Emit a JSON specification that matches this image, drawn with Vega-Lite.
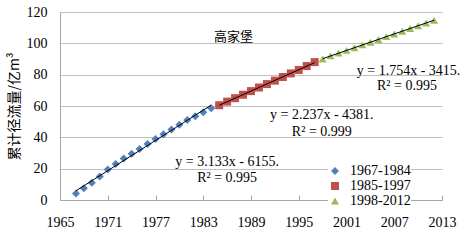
{
  "$schema": "https://vega.github.io/schema/vega-lite/v6.json",
  "width": 382,
  "height": 188,
  "autosize": {"type": "none"},
  "padding": {"left": 60, "top": 12, "right": 25, "bottom": 40},
  "background": "white",
  "config": {
    "view": {"stroke": null},
    "font": "Liberation Serif"
  },
  "datasets": {
    "runoff": [
      {"year": 1967, "value": 4.2, "period": "1967-1984"},
      {"year": 1968, "value": 7.5, "period": "1967-1984"},
      {"year": 1969, "value": 11.0, "period": "1967-1984"},
      {"year": 1970, "value": 15.0, "period": "1967-1984"},
      {"year": 1971, "value": 19.5, "period": "1967-1984"},
      {"year": 1972, "value": 23.0, "period": "1967-1984"},
      {"year": 1973, "value": 26.5, "period": "1967-1984"},
      {"year": 1974, "value": 29.5, "period": "1967-1984"},
      {"year": 1975, "value": 32.5, "period": "1967-1984"},
      {"year": 1976, "value": 35.8, "period": "1967-1984"},
      {"year": 1977, "value": 39.0, "period": "1967-1984"},
      {"year": 1978, "value": 42.0, "period": "1967-1984"},
      {"year": 1979, "value": 45.0, "period": "1967-1984"},
      {"year": 1980, "value": 48.0, "period": "1967-1984"},
      {"year": 1981, "value": 51.0, "period": "1967-1984"},
      {"year": 1982, "value": 53.5, "period": "1967-1984"},
      {"year": 1983, "value": 56.0, "period": "1967-1984"},
      {"year": 1984, "value": 58.5, "period": "1967-1984"},
      {"year": 1985, "value": 60.5, "period": "1985-1997"},
      {"year": 1986, "value": 62.8, "period": "1985-1997"},
      {"year": 1987, "value": 65.0, "period": "1985-1997"},
      {"year": 1988, "value": 67.2, "period": "1985-1997"},
      {"year": 1989, "value": 69.5, "period": "1985-1997"},
      {"year": 1990, "value": 71.8, "period": "1985-1997"},
      {"year": 1991, "value": 74.0, "period": "1985-1997"},
      {"year": 1992, "value": 76.2, "period": "1985-1997"},
      {"year": 1993, "value": 78.5, "period": "1985-1997"},
      {"year": 1994, "value": 80.8, "period": "1985-1997"},
      {"year": 1995, "value": 83.0, "period": "1985-1997"},
      {"year": 1996, "value": 85.5, "period": "1985-1997"},
      {"year": 1997, "value": 88.0, "period": "1985-1997"},
      {"year": 1998, "value": 90.0, "period": "1998-2012"},
      {"year": 1999, "value": 92.0, "period": "1998-2012"},
      {"year": 2000, "value": 93.8, "period": "1998-2012"},
      {"year": 2001, "value": 95.5, "period": "1998-2012"},
      {"year": 2002, "value": 97.2, "period": "1998-2012"},
      {"year": 2003, "value": 99.0, "period": "1998-2012"},
      {"year": 2004, "value": 100.7, "period": "1998-2012"},
      {"year": 2005, "value": 102.5, "period": "1998-2012"},
      {"year": 2006, "value": 104.3, "period": "1998-2012"},
      {"year": 2007, "value": 106.0, "period": "1998-2012"},
      {"year": 2008, "value": 107.7, "period": "1998-2012"},
      {"year": 2009, "value": 109.5, "period": "1998-2012"},
      {"year": 2010, "value": 111.2, "period": "1998-2012"},
      {"year": 2011, "value": 113.0, "period": "1998-2012"},
      {"year": 2012, "value": 114.7, "period": "1998-2012"}
    ],
    "notes": [
      {"year": 1986.0, "value": 24.5, "label": "y = 3.133x - 6155."},
      {"year": 1986.0, "value": 14.0, "label": "R² = 0.995"},
      {"year": 1997.9, "value": 54.2, "label": "y = 2.237x - 4381."},
      {"year": 1997.9, "value": 43.6, "label": "R² = 0.999"},
      {"year": 2008.8, "value": 82.5, "label": "y = 1.754x - 3415."},
      {"year": 2008.6, "value": 72.8, "label": "R² = 0.995"}
    ]
  },
  "encoding": {
    "x": {
      "field": "year", "type": "quantitative",
      "scale": {"domain": [1965, 2013], "nice": false, "zero": false},
      "axis": {"title": null, "values": [1965, 1971, 1977, 1983, 1989, 1995, 2001, 2007, 2013], "format": "d", "grid": false, "tickSize": -5, "labelPadding": 20, "labelOverlap": false, "labelFont": "Liberation Serif", "labelFontSize": 14, "labelColor": "black", "domainColor": "#A6A6A6", "tickColor": "#A6A6A6", "labelFlush": false}
    },
    "y": {
      "field": "value", "type": "quantitative",
      "scale": {"domain": [0, 120], "nice": false},
      "axis": {"title": "累计径流量/亿m³", "titleFont": "Noto Sans CJK SC", "titleFontSize": 14, "titleFontWeight": "normal", "titleColor": "black", "titlePadding": 5, "values": [0, 20, 40, 60, 80, 100, 120], "ticks": false, "labelPadding": 13, "labelOverlap": false, "labelFlush": false, "labelFont": "Liberation Serif", "labelFontSize": 14, "labelColor": "black", "gridColor": "#BFBFBF", "domainColor": "#A6A6A6"}
    }
  },
  "layer": [
    {
      "data": {"name": "runoff"},
      "mark": {"type": "point", "filled": true, "opacity": 1},
      "encoding": {
        "color": {
          "field": "period", "type": "nominal",
          "scale": {"domain": ["1967-1984", "1985-1997", "1998-2012"], "range": ["#4F81BD", "#C0504D", "#9BBB59"]},
          "legend": {"title": null, "orient": "none", "legendX": 268, "legendY": 152, "labelFont": "Liberation Serif", "labelFontSize": 14, "labelColor": "black", "symbolSize": 64, "padding": 0, "rowPadding": 1, "fillColor": "white", "labelOffset": 8}
        },
        "shape": {
          "field": "period", "type": "nominal",
          "scale": {"domain": ["1967-1984", "1985-1997", "1998-2012"], "range": ["diamond", "square", "triangle-up"]},
          "legend": null
        },
        "size": {"value": 64}
      }
    },
    {
      "data": {"name": "runoff"},
      "transform": [{"regression": "value", "on": "year", "groupby": ["period"]}],
      "mark": {"type": "line", "color": "black", "strokeWidth": 1},
      "encoding": {
        "detail": {"field": "period"}
      }
    },
    {
      "data": {"name": "notes"},
      "mark": {"type": "text", "font": "Liberation Serif", "fontSize": 14, "color": "black", "align": "center", "baseline": "middle"},
      "encoding": {
        "text": {"field": "label"}
      }
    },
    {
      "data": {"values": [{"year": 1986.8, "value": 104.2, "label": "高家堡"}]},
      "mark": {"type": "text", "font": "Noto Sans CJK SC", "fontSize": 13, "color": "black", "align": "center", "baseline": "middle"},
      "encoding": {
        "text": {"field": "label"}
      }
    }
  ]
}
